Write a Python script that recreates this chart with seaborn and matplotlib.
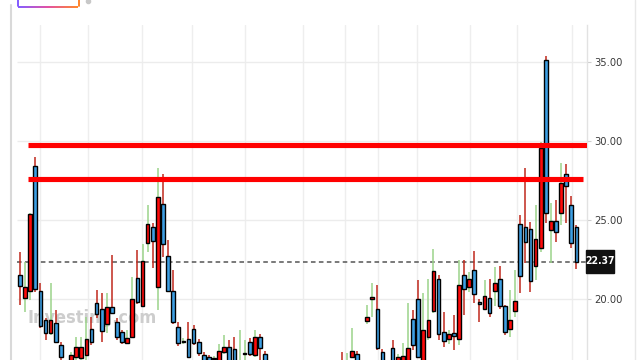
import numpy as np
import pandas as pd
import matplotlib
matplotlib.use("Agg")
import matplotlib.pyplot as plt
import seaborn as sns
from matplotlib import font_manager
from matplotlib.lines import Line2D
from matplotlib.patches import Rectangle

# ---------------- data ----------------
opens = [21.52, 20.04, 20.53, 28.42, 20.53, 18.67, 17.87, 18.45, 17.09, 16.00,
         16.01, 16.31, 16.25, 16.46, 18.08, 19.77, 19.35, 18.42, 19.51, 18.56,
         17.91, 17.23, 17.61, 21.35, 19.58, 23.53, 24.54, 20.78, 25.99, 22.72,
         20.53, 18.25, 17.25, 17.45, 18.08, 17.30, 16.46, 16.33, 16.20, 16.01,
         16.66, 16.98, 16.84, 15.82, 16.52, 17.30, 16.46, 17.61, 16.52, 15.90,
         15.40, 15.60, 15.20, 15.30, 15.00, 15.20, 15.50, 15.30, 15.10, 15.40,
         15.60, 15.30, 15.60, 15.90, 15.50, 16.35, 16.52, 15.90, 18.63, 19.98,
         19.35, 16.66, 15.90, 16.88, 15.95, 15.95, 16.01, 18.72, 19.98, 16.01,
         17.61, 19.26, 21.25, 17.93, 17.45, 17.87, 17.45, 21.52, 20.74, 21.84,
         19.83, 19.35, 20.08, 20.53, 21.25, 19.56, 18.08, 19.26, 24.73, 24.58,
         24.41, 22.09, 23.21, 35.13, 24.37, 24.96, 25.46, 27.89, 25.95, 24.58]
highs = [22.97, 22.36, 25.45, 29.01, 21.03, 18.80, 21.03, 19.30, 17.30, 16.05,
         16.65, 17.61, 17.61, 18.88, 18.88, 20.57, 20.36, 20.36, 22.78, 18.80,
         18.04, 18.04, 21.39, 23.10, 23.48, 25.95, 24.83, 28.27, 27.89, 23.73,
         21.84, 18.54, 17.53, 18.56, 18.35, 17.47, 16.65, 16.46, 16.39, 17.15,
         17.72, 17.41, 17.61, 18.04, 17.41, 17.53, 18.04, 17.78, 16.71, 16.00,
         15.80, 15.90, 15.50, 15.60, 15.40, 15.70, 15.90, 15.60, 15.50, 15.80,
         15.90, 15.70, 16.00, 16.66, 16.58, 18.15, 16.71, 16.00, 19.62, 21.03,
         20.89, 16.84, 16.05, 17.41, 16.52, 17.23, 19.77, 19.30, 21.20, 20.40,
         21.25, 23.15, 21.52, 19.20, 18.04, 18.99, 22.47, 22.47, 21.73, 23.04,
         20.00, 21.20, 21.25, 22.01, 22.09, 19.62, 20.57, 21.84, 25.32, 28.27,
         24.89, 25.95, 29.96, 35.38, 26.09, 26.27, 28.59, 28.54, 26.52, 24.68]
lows = [19.62, 19.20, 19.94, 20.44, 18.16, 17.41, 17.72, 17.22, 16.01, 15.30,
        15.82, 16.14, 16.14, 16.14, 17.09, 18.80, 17.30, 17.83, 19.05, 17.41,
        17.15, 17.15, 17.53, 19.68, 19.49, 22.99, 21.98, 19.30, 22.64, 20.44,
        18.42, 17.03, 17.15, 16.27, 17.09, 16.39, 15.82, 15.82, 16.08, 15.89,
        16.52, 15.82, 15.82, 15.70, 16.14, 16.39, 16.33, 16.14, 15.82, 15.20,
        15.00, 15.10, 14.80, 14.90, 14.70, 15.00, 15.20, 14.90, 14.80, 15.10,
        15.20, 15.00, 15.30, 15.30, 15.30, 16.27, 15.89, 15.40, 18.42, 18.88,
        16.77, 15.82, 15.40, 15.89, 15.82, 15.82, 15.89, 16.77, 16.27, 15.89,
        17.41, 19.11, 17.41, 16.94, 17.15, 16.77, 17.09, 18.99, 20.46, 19.77,
        18.56, 19.30, 18.88, 19.56, 19.35, 17.72, 17.61, 18.84, 20.40, 22.26,
        20.46, 21.20, 22.99, 24.83, 22.26, 23.63, 24.68, 24.79, 23.21, 21.88]
closes = [20.82, 20.76, 25.38, 20.63, 18.27, 17.83, 18.67, 17.30, 16.33, 15.50,
          16.46, 16.94, 16.94, 17.45, 17.28, 19.05, 17.99, 19.51, 19.13, 17.61,
          17.30, 17.53, 19.98, 19.78, 22.42, 24.73, 23.69, 26.44, 23.46, 20.53,
          18.54, 17.23, 17.34, 16.35, 17.23, 16.56, 16.01, 15.95, 16.27, 16.71,
          16.98, 16.01, 16.01, 16.08, 16.60, 16.52, 17.61, 16.88, 16.01, 15.40,
          15.60, 15.20, 15.30, 15.00, 15.20, 15.50, 15.30, 15.10, 15.40, 15.60,
          15.30, 15.60, 15.80, 15.50, 15.90, 16.73, 16.01, 15.60, 18.88, 20.15,
          16.88, 16.01, 15.60, 16.01, 16.35, 16.39, 16.92, 17.09, 16.35, 18.04,
          18.67, 21.79, 17.78, 17.36, 17.78, 17.68, 20.89, 20.61, 21.25, 20.32,
          19.66, 20.19, 19.09, 20.99, 19.56, 17.93, 18.67, 19.89, 21.46, 23.59,
          21.16, 23.78, 29.54, 25.46, 24.94, 24.22, 27.32, 27.17, 23.53, 22.37]
level_lines = [29.75, 27.60]
last_price = 22.37
y_ticks = [20, 25, 30, 35]
y_tick_labels = ["20.00", "25.00", "30.00", "35.00"]
watermark = "Investing.com"

df = pd.DataFrame({"open": opens, "high": highs, "low": lows, "close": closes})
df["idx"] = np.arange(len(df))
df["up"] = df["close"] >= df["open"]

# ---------------- style ----------------
sns.set_theme(style="white")
avail = {f.name for f in font_manager.fontManager.ttflist}
if "Liberation Sans Narrow" in avail:
    FAM = ["Liberation Sans Narrow", "DejaVu Sans"]
    STRETCH = "normal"
else:
    FAM = ["DejaVu Sans"]
    STRETCH = "condensed"
plt.rcParams["font.family"] = FAM

BLUE = "#3d9fe3"
RED = "#ff0a0a"
WICK_RED = "#c0281c"
WICK_GREEN = "#9bd38a"

W, H = 640, 360
fig = plt.figure(figsize=(6.4, 3.6), dpi=100)
ax = fig.add_axes([10 / W, 0, 577 / W, 335 / H])
ax.set_xlim(-1.96, 111.07)
ax.set_ylim(16.14, 37.34)

# grid
for gx in [3.9, 13.3, 23.9, 33.7, 44.1, 55.4, 63.7, 70.1, 77.8, 88.1, 97.4, 108.1]:
    ax.axvline(gx, color="#eeeeee", lw=1.0, zorder=0)
ax.hlines(y_ticks, -0.6, 111.07, color="#ececec", lw=1.0, zorder=0)

# watermark
ax.text(1.55, 18.5, watermark, fontsize=13, fontweight="bold", color="#cdcdcd",
        zorder=0.5, family=FAM, fontstretch=STRETCH)

# wicks
wick_cols = [WICK_GREEN if u else WICK_RED for u in df["up"]]
ax.vlines(df["idx"], df["low"], df["high"], colors=wick_cols, lw=1.1, zorder=2)

# bodies
bottoms = np.minimum(df["open"], df["close"])
heights = np.maximum(np.abs(df["close"] - df["open"]), 0.06)
body_cols = [RED if u else BLUE for u in df["up"]]
ax.bar(df["idx"], heights, bottom=bottoms, width=0.72, color=body_cols,
       edgecolor="black", linewidth=1.0, zorder=3)

# horizontal level lines
ax.hlines(level_lines[0], 1.57, 111.07, color="#ff0000", lw=3.7, zorder=4)
ax.hlines(level_lines[1], 1.57, 110.3, color="#ff0000", lw=3.7, zorder=4)

# last price dashed line
ax.hlines(last_price, -0.6, 111.07, color="#555555", lw=1.1,
          linestyles=(0, (3.0, 2.2)), zorder=1.5)

# axes cosmetics
sns.despine(ax=ax, left=True, top=True, bottom=True, right=False)
ax.spines["right"].set_color("#e2e2e2")
ax.spines["right"].set_linewidth(1.0)
ax.yaxis.tick_right()
ax.set_yticks(y_ticks)
ax.set_yticklabels(y_tick_labels)
ax.tick_params(axis="y", length=3, width=0.8, color="#cfcfcf", pad=2,
               labelsize=8, labelcolor="#3a3a3a")
for lab in ax.get_yticklabels():
    lab.set_fontstretch(STRETCH)
ax.set_xticks([])

# price box
fig.patches.append(Rectangle((586 / W, 1 - 273 / H), 28 / W, 23 / H,
                             transform=fig.transFigure, facecolor="#111111",
                             edgecolor="#111111", zorder=10))
fig.text(600 / W, 1 - 261.5 / H, f"{last_price:.2f}", color="white",
         fontsize=7.5, fontweight="bold", ha="center", va="center", zorder=11,
         fontstretch=STRETCH)

# frame lines outside axes
fig.add_artist(Line2D([10.5 / W, 10.5 / W], [1 - 5 / H, 0], color="#d9d9d9", lw=1.5))
fig.add_artist(Line2D([635 / W, 635 / W], [1, 0], color="#e8e8e8", lw=1.0))

# top-left button fragment (gradient border)
xs = np.linspace(18, 78, 40)
cm = matplotlib.colors.LinearSegmentedColormap.from_list("g", ["#7a4dff", "#e0409a", "#ff7a1a"])
for k in range(len(xs) - 1):
    t = k / (len(xs) - 2)
    fig.add_artist(Line2D([xs[k] / W, xs[k + 1] / W], [1 - 6.5 / H, 1 - 6.5 / H],
                          color=cm(t), lw=1.3, solid_capstyle="butt"))
fig.add_artist(Line2D([18 / W, 18 / W], [1, 1 - 6 / H], color="#7a4dff", lw=1.3))
fig.add_artist(Line2D([78.5 / W, 78.5 / W], [1, 1 - 6 / H], color="#ff7a1a", lw=1.3))
fig.add_artist(Line2D([88 / W], [1 - 0.5 / H], marker="o", markersize=3,
                      color="#c8c8c8", lw=0))

fig.savefig("out.png", dpi=100)
